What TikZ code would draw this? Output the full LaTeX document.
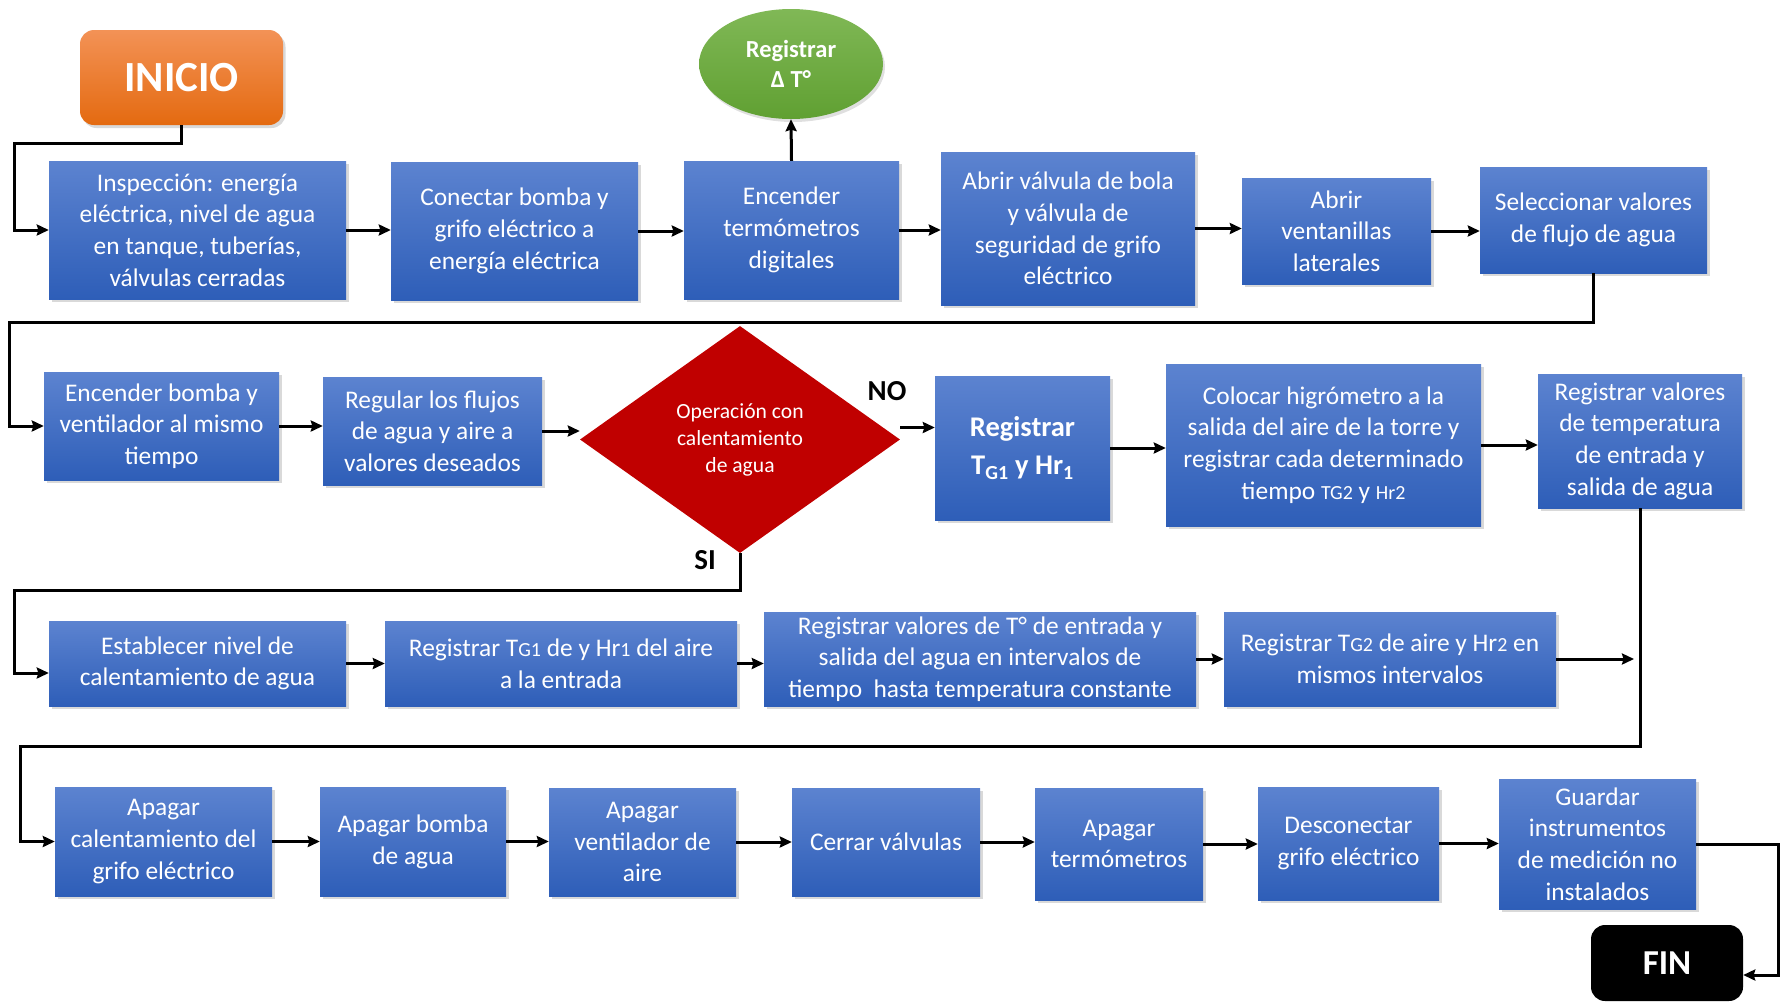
\documentclass[tikz,border=0pt]{standalone}
\usepackage{fontspec}
\setmainfont{Carlito}
\usetikzlibrary{shapes.geometric, arrows, arrows.meta, positioning, shadows}

\definecolor{boxtop}{RGB}{92,131,208}
\definecolor{boxbot}{RGB}{46,94,184}
\definecolor{initop}{RGB}{243,146,86}
\definecolor{inibot}{RGB}{228,106,16}
\definecolor{regtop}{RGB}{128,184,86}
\definecolor{regbot}{RGB}{96,160,50}
\definecolor{decred}{RGB}{192,0,0}

\newcommand{\boxtxt}{\fontsize{25.4}{31.7}\selectfont}
\newcommand{\dectxt}{\fontsize{21.6}{27}\selectfont}
\newcommand{\subtx}[1]{{\fontsize{20}{24}\selectfont #1}}

\begin{document}
\begin{tikzpicture}[
  x=1pt, y=1pt,
  wh/.style 2 args={minimum width=#1pt, minimum height=#2pt},
  startstop/.style={rectangle, rounded corners=14pt, text=white, inner sep=0pt, font=\bfseries},
  process/.style={rectangle, top color=boxtop, bottom color=boxbot, text=white, align=center, font=\boxtxt, inner sep=2pt, drop shadow={shadow xshift=2.5pt, shadow yshift=-3pt, opacity=0.3}},
  decision/.style={diamond, aspect=1.41, fill=decred, text=white, align=center, font=\dectxt, inner sep=0pt},
  record/.style={ellipse, top color=regtop, bottom color=regbot, text=white, align=center, inner sep=0pt, font=\fontsize{24.5}{30}\selectfont\bfseries, drop shadow={shadow xshift=2pt, shadow yshift=-3pt, opacity=0.25}},
  branch/.style={font=\fontsize{29}{32}\selectfont\bfseries, inner sep=0pt},
  arrow/.style={line width=3pt,->,>={Stealth[length=12pt,width=11pt,inset=1.5pt]}}]

  \useasboundingbox (0,0) rectangle (1787,-1002);

  % Nodes
  \node (inicio) [startstop, wh={203}{95}, top color=initop, bottom color=inibot, font=\fontsize{43}{50}\selectfont\bfseries, drop shadow={shadow xshift=2.5pt, shadow yshift=-3pt, opacity=0.3}] at (181.5,-77.5) {INICIO};
  \node (regdt) [record, wh={184}{110}] at (791,-64) {Registrar\\Δ T°};

  \node (insp) [process, wh={297}{138}] at (197.5,-230) {Inspección: energía\\eléctrica, nivel de agua\\en tanque, tuberías,\\válvulas cerradas};
  \node (conec) [process, wh={247}{138}] at (514.5,-231) {Conectar bomba y\\grifo eléctrico a\\energía eléctrica};
  \node (enct) [process, wh={215}{138}] at (791.5,-230) {Encender\\termómetros\\digitales};
  \node (abrv) [process, wh={254}{153}] at (1068,-228.5) {Abrir válvula de bola\\y válvula de\\seguridad de grifo\\eléctrico};
  \node (abrvent) [process, wh={189}{106}] at (1336.5,-231) {Abrir\\ventanillas\\laterales};
  \node (selec) [process, wh={227}{106}] at (1593.5,-220) {Seleccionar valores\\de flujo de agua};

  \node (encb) [process, wh={235}{108}] at (161.5,-426) {Encender bomba y\\ventilador al mismo\\tiempo};
  \node (regul) [process, wh={219}{108}] at (432.5,-431) {Regular los flujos\\de agua y aire a\\valores deseados};
  \node (dec) [decision, wh={320}{227}] at (740,-439.5) {Operación con\\calentamiento\\de agua};
  \node (regtg) [process, wh={175}{144}, font=\fontsize{28.5}{38}\selectfont\bfseries] at (1022.5,-448) {Registrar\\T\textsubscript{G1} y Hr\textsubscript{1}};
  \node (coloc) [process, wh={315}{162}] at (1323.5,-445) {Colocar higrómetro a la\\salida del aire de la torre y\\registrar cada determinado\\tiempo \subtx{TG2} y \subtx{Hr2}};
  \node (regvt) [process, wh={204}{134}] at (1640,-441) {Registrar valores\\de temperatura\\de entrada y\\salida de agua};

  \node (estab) [process, wh={297}{85}] at (197.5,-663.5) {Establecer nivel de\\calentamiento de agua};
  \node (regt1) [process, wh={352}{85}] at (561,-663.5) {Registrar T\subtx{G1} de y Hr\subtx{1} del aire\\a la entrada};
  \node (regvT) [process, wh={432}{94}] at (980,-659) {Registrar valores de T° de entrada y\\salida del agua en intervalos de\\tiempo~ hasta temperatura constante};
  \node (regt2) [process, wh={332}{94}] at (1390,-659) {Registrar T\subtx{G2} de aire y Hr\subtx{2} en\\mismos intervalos};

  \node (apcal) [process, wh={217}{109}] at (163.5,-841.5) {Apagar\\calentamiento del\\grifo eléctrico};
  \node (apbom) [process, wh={186}{109}] at (413,-841.5) {Apagar bomba\\de agua};
  \node (apven) [process, wh={187}{108}] at (642.5,-842) {Apagar\\ventilador de\\aire};
  \node (cerr) [process, wh={188}{108}] at (886,-842) {Cerrar válvulas};
  \node (apterm) [process, wh={168}{112}] at (1119,-844) {Apagar\\termómetros};
  \node (desc) [process, wh={181}{113}] at (1348.5,-843.5) {Desconectar\\grifo eléctrico};
  \node (guard) [process, wh={197}{130}] at (1597.5,-844) {Guardar\\instrumentos\\de medición no\\instalados};
  \node (fin) [startstop, wh={152}{76}, fill=black, font=\fontsize{35}{40}\selectfont\bfseries] at (1667,-963) {FIN};

  \node (no) [branch] at (887,-391) {NO};
  \node (si) [branch] at (705,-560) {SI};

  % Arrows
  \draw [arrow] (inicio.south) -- ++(0,-18) -| ([xshift=-34pt]insp.west) -- (insp.west);
  \draw [arrow] (insp.east) -- (insp.east -| conec.west);
  \draw [arrow] (conec.east) -- (conec.east -| enct.west);
  \draw [arrow] (enct.north) -- (regdt.south);
  \draw [arrow] (enct.east) -- (enct.east -| abrv.west);
  \draw [arrow] (abrv.east) -- (abrv.east -| abrvent.west);
  \draw [arrow] (abrvent.east) -- (abrvent.east -| selec.west);

  \draw [arrow] (selec.south) -- ++(0,-49) -| ([xshift=-34pt]encb.west) -- (encb.west);
  \draw [arrow] (encb.east) -- (encb.east -| regul.west);
  \draw [arrow] (regul.east) -- (regul.east -| dec.west);
  \draw [arrow] ([yshift=12pt]dec.east) -- ([yshift=12pt]dec.east -| regtg.west);
  \draw [arrow] (regtg.east) -- (regtg.east -| coloc.west);
  \draw [arrow] (coloc.east) -- (coloc.east -| regvt.west);

  \draw [arrow] (dec.south) -- ++(0,-37) -| ([xshift=-34pt,yshift=-9.5pt]estab.west) -- ([yshift=-9.5pt]estab.west);
  \draw [arrow] (estab.east) -- (estab.east -| regt1.west);
  \draw [arrow] (regt1.east) -- (regt1.east -| regvT.west);
  \draw [arrow] (regvT.east) -- (regvT.east -| regt2.west);
  \draw [arrow] (regt2.east) -- ([xshift=-6pt]regt2.east -| regvt.south);

  \draw [arrow] (regvt.south) -- ++(0,-238) -| ([xshift=-34pt]apcal.west) -- (apcal.west);
  \draw [arrow] (apcal.east) -- (apcal.east -| apbom.west);
  \draw [arrow] (apbom.east) -- (apbom.east -| apven.west);
  \draw [arrow] (apven.east) -- (apven.east -| cerr.west);
  \draw [arrow] (cerr.east) -- (cerr.east -| apterm.west);
  \draw [arrow] (apterm.east) -- (apterm.east -| desc.west);
  \draw [arrow] (desc.east) -- (desc.east -| guard.west);
  \draw [arrow] (guard.east) -- ++(82,0) |- ([yshift=-12pt]fin.east);
\end{tikzpicture}
\end{document}
